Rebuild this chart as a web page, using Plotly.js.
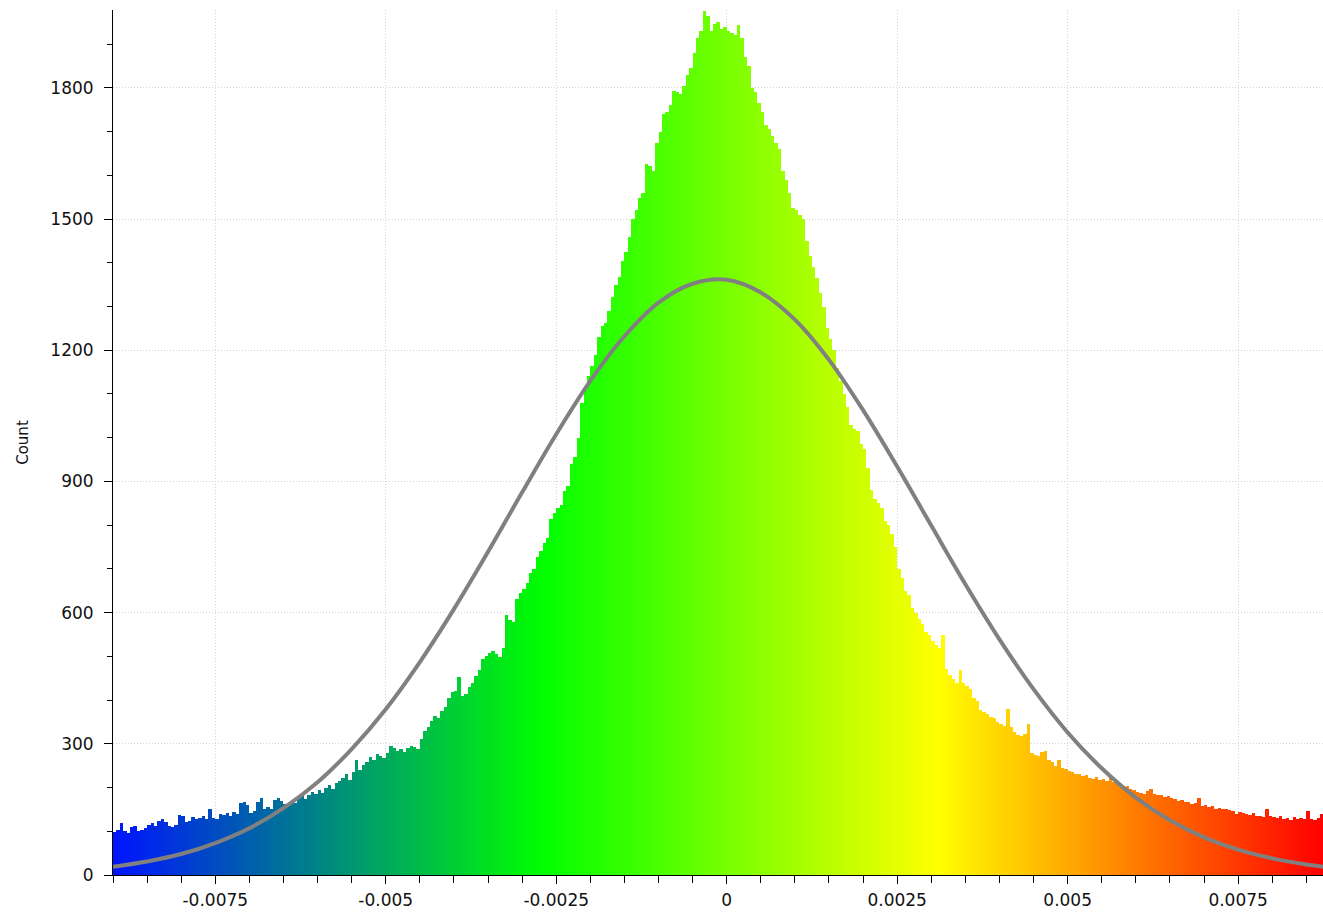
<!DOCTYPE html>
<html><head><meta charset="utf-8">
<script src="https://cdn.plot.ly/plotly-3.0.1.min.js"></script>
<style>html,body{margin:0;padding:0;background:#fff}#chart{width:1323px;height:915px}</style>
</head><body><div id="chart"></div>
<script>
// Histogram bins (equal width), counts
const binStart = -0.009;
const binWidth = 0.00005;
const counts = [
98,104,120,101,97,110,112,100,104,108,
115,118,113,124,127,122,111,109,114,137,
135,121,123,133,128,130,134,128,150,131,
128,140,138,141,136,143,139,164,167,160,
141,147,168,175,150,156,152,172,176,170,
163,160,168,165,176,180,174,183,190,186,
194,188,198,205,196,210,214,222,230,218,
236,262,240,252,258,270,262,276,272,268,
279,294,290,284,288,282,290,295,292,288,
310,330,338,352,364,360,376,384,405,418,
420,452,410,414,430,440,456,468,495,500,
508,512,506,498,520,595,584,578,630,646,
655,668,690,700,728,740,760,770,815,828,
840,846,878,890,940,955,1000,1080,1110,1140,
1165,1190,1230,1255,1262,1290,1322,1350,1368,1405,
1425,1460,1500,1520,1548,1560,1625,1622,1610,1675,
1700,1740,1745,1760,1792,1790,1786,1805,1830,1845,
1880,1915,1930,1975,1965,1930,1945,1950,1935,1940,
1930,1925,1920,1944,1915,1870,1850,1800,1790,1765,
1745,1715,1705,1690,1675,1660,1610,1590,1560,1525,
1520,1510,1500,1450,1415,1390,1365,1330,1300,1250,
1225,1200,1160,1130,1100,1070,1030,1020,1015,985,
975,930,880,860,850,840,810,800,780,750,
700,680,650,640,610,598,585,575,555,548,
535,525,520,548,470,458,448,440,468,440,
432,425,405,398,378,372,368,362,358,350,
345,340,380,338,326,320,318,322,346,280,
275,272,282,284,262,258,250,262,245,242,
238,236,232,230,226,228,222,220,224,218,
220,215,222,212,210,206,200,204,196,194,
190,188,186,192,196,186,182,184,178,180,
176,174,170,172,166,168,162,164,176,158,
160,156,158,152,154,150,152,148,146,140,
144,142,140,138,142,136,134,132,150,136,
132,130,134,128,130,126,132,128,130,128,146,128,126,130,140
];

// Fitted normal curve
const fitX = [-0.009,-0.0085,-0.008,-0.0075,-0.007,-0.0065,-0.006,-0.0055,-0.005,-0.0045,
  -0.004,-0.0035,-0.003,-0.0025,-0.002,-0.0015,-0.001,-0.0005,0,0.0005,
  0.001,0.0015,0.002,0.0025,0.003,0.0035,0.004,0.0045,0.005,0.0055,
  0.006,0.0065,0.007,0.0075,0.008,0.0085,0.00875];
const fitY = [19,31,48,73,107,153,212,288,379,487,
  608,739,875,1008,1130,1232,1309,1352,1361,1332,
  1270,1178,1063,934,799,665,539,425,326,244,
  177,125,86,58,38,24,19];

const xTickVals = [-0.0075,-0.005,-0.0025,0,0.0025,0.005,0.0075];
const xTickText = ['-0.0075','-0.005','-0.0025','0','0.0025','0.005','0.0075'];
const yTickVals = [0,300,600,900,1200,1500,1800];
const yTickText = ['0','300','600','900','1200','1500','1800'];
const yTitle = 'Count';

const binCenters = counts.map((_, i) => binStart + (i + 0.5) * binWidth);
const xMin = binStart, xMax = 0.008745;

const font = {family: 'DejaVu Sans, Verdana, sans-serif', size: 17, color: '#111'};

const bars = {
  type: 'bar', x: binCenters, y: counts, width: binWidth,
  marker: {
    color: binCenters, cmin: xMin, cmax: xMax,
    colorscale: [[0,'rgb(0,20,255)'],[0.355,'rgb(0,255,0)'],[0.682,'rgb(255,255,0)'],[1,'rgb(255,0,0)']],
    line: {width: 0}
  },
  hoverinfo: 'skip', showlegend: false
};
const fit = {
  type: 'scatter', mode: 'lines', x: fitX, y: fitY,
  line: {color: '#808080', width: 4, shape: 'spline'},
  hoverinfo: 'skip', showlegend: false
};

const axisCommon = {
  showline: true, linecolor: '#000', linewidth: 1,
  ticks: 'outside', tickcolor: '#000', tickwidth: 1,
  showgrid: true, gridcolor: '#d4d4d4', griddash: '1px,2px', gridwidth: 1,
  zeroline: false, tickfont: font, fixedrange: true
};

const layout = {
  width: 1323, height: 915,
  margin: {l: 113, r: 0, t: 10, b: 40},
  paper_bgcolor: '#fff', plot_bgcolor: '#fff',
  bargap: 0, showlegend: false,
  xaxis: Object.assign({}, axisCommon, {
    range: [xMin, xMax], tickmode: 'array', tickvals: xTickVals, ticktext: xTickText,
    ticklen: 8, ticklabelstandoff: 2,
    minor: {tickmode: 'linear', tick0: 0, dtick: 0.0005, ticks: 'outside', ticklen: 7, tickcolor: '#000', showgrid: false}
  }),
  yaxis: Object.assign({}, axisCommon, {
    range: [0, 1978], tickmode: 'array', tickvals: yTickVals, ticktext: yTickText,
    ticklen: 8, ticklabelstandoff: 7,
    minor: {tickmode: 'linear', tick0: 0, dtick: 100, ticks: 'outside', ticklen: 5, tickcolor: '#000', showgrid: false},
    title: {text: yTitle, font: {family: 'DejaVu Sans, Verdana, sans-serif', size: 15, color: '#111'}, standoff: 18}
  })
};

Plotly.newPlot('chart', [bars, fit], layout, {displayModeBar: false, staticPlot: true});
</script>
</body></html>
